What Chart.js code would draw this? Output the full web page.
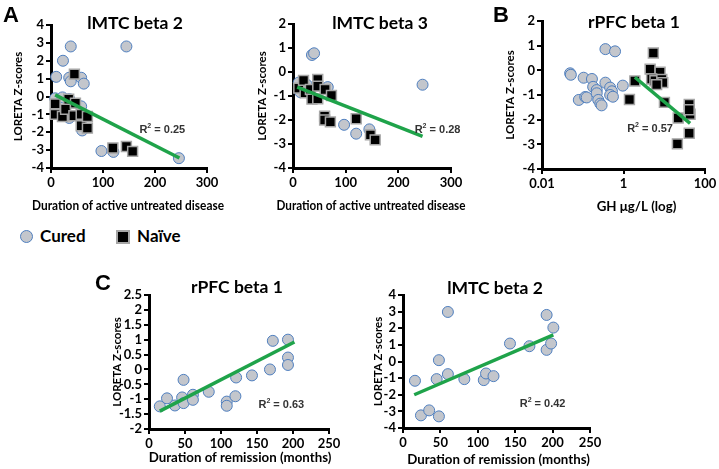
<!DOCTYPE html>
<html>
<head>
<meta charset="utf-8">
<script src="https://cdn.jsdelivr.net/npm/chart.js@4.4.1/dist/chart.umd.min.js"></script>
<style>
  body { margin: 0; background: #fff; width: 719px; height: 469px; position: relative; overflow: hidden; font-family: Lato, sans-serif; }
  canvas { position: absolute; }
  .lbl { position: absolute; font-weight: bold; white-space: nowrap; color: #000; }
  .ttl { font-size: 17.5px; line-height: 22px; width: 160px; text-align: center; }
  .let { font-family: "Liberation Sans", Arial, sans-serif; font-size: 22px; line-height: 22px; }
  .leg { font-size: 17px; line-height: 20px; }
</style>
</head>
<body>
<canvas id="cA1"></canvas>
<canvas id="cA2"></canvas>
<canvas id="cB"></canvas>
<canvas id="cC1"></canvas>
<canvas id="cC2"></canvas>

<div class="lbl let" style="left:3px;top:4px">A</div>
<div class="lbl let" style="left:493px;top:4px">B</div>
<div class="lbl let" style="left:95px;top:272px">C</div>

<div class="lbl ttl" style="left:55px;top:12px">lMTC beta 2</div>
<div class="lbl ttl" style="left:300px;top:12px">lMTC beta 3</div>
<div class="lbl ttl" style="left:554px;top:11px">rPFC beta 1</div>
<div class="lbl ttl" style="left:157px;top:276px">rPFC beta 1</div>
<div class="lbl ttl" style="left:415px;top:277px">lMTC beta 2</div>

<div style="position:absolute;left:20px;top:230px;width:11px;height:11px;border-radius:50%;background:#c3c6cc;border:1.5px solid #4f7fbf"></div>
<div class="lbl leg" style="left:40px;top:226px">Cured</div>
<div style="position:absolute;left:116px;top:230px;width:10px;height:10px;background:#000;border:2px solid #a6a6a6"></div>
<div class="lbl leg" style="left:137px;top:226px">Naïve</div>

<script>
// ---- data ----
// A: duration of active untreated disease vs LORETA z-score
const a1Cured = [[10,1.1],[23,2.0],[38,2.8],[145,2.8],[35,1.05],[38,0.85],[58,1.05],[63,0.72],[8,-0.1],[22,-0.05],[35,-0.15],[58,-0.55],[35,-1.2],[60,-1.9],[97,-3.05],[120,-3.1],[246,-3.45]];
const a1Naive = [[45,1.25],[8,-0.41],[8,-1.0],[22,-1.12],[28,-0.71],[34,-0.15],[47,-0.37],[44,-1.08],[58,-1.0],[58,-1.64],[70,-1.12],[70,-1.77],[119,-2.88],[145,-2.8],[157,-3.07]];
const a1Trend = [[8,0.09],[247,-3.44]];

const a2Cured = [[36,0.71],[40,0.78],[11,-0.44],[14,-0.84],[17,-0.63],[26,-0.53],[66,-0.63],[97,-2.2],[120,-2.57],[145,-2.39],[246,-0.53]];
const a2Naive = [[11,-0.67],[20,-0.35],[23,-0.87],[33,-0.73],[36,-1.13],[47,-1.12],[47,-0.31],[47,-0.59],[61,-0.73],[60,-1.84],[60,-2.0],[71,-2.08],[73,-0.98],[120,-1.95],[147,-2.62],[156,-2.83]];
const a2Trend = [[8,-0.63],[246,-2.68]];

// B: GH (log) vs LORETA z-score
const bCured = [[0.049,-0.12],[0.051,-0.18],[0.105,-0.3],[0.168,-0.35],[0.36,0.86],[0.62,0.77],[0.36,-0.5],[0.96,-0.62],[0.18,-0.67],[0.22,-0.8],[0.47,-0.7],[0.52,-0.85],[0.47,-1.0],[0.55,-1.07],[0.08,-1.2],[0.115,-1.08],[0.125,-1.1],[0.22,-0.93],[0.24,-1.2],[0.27,-1.35],[0.29,-1.42]];
const bNaive = [[5.4,0.7],[4.5,0.05],[7.9,-0.08],[4.9,-0.35],[5.9,-0.42],[8.7,-0.37],[9.2,-0.5],[6.5,-0.58],[1.9,-0.43],[1.4,-1.18],[10.1,-1.3],[22,-1.93],[43,-1.78],[41,-1.38],[41,-1.6],[41,-2.55],[21,-2.98]];
const bTrend = [[1.9,-0.28],[43,-2.15]];

// C: duration of remission (months) vs LORETA z-score, cured only
const c1Cured = [[15,-1.24],[25,-0.97],[36,-1.21],[46,-0.94],[48,-0.35],[48,-1.13],[61,-0.85],[61,-1.02],[83,-0.75],[108,-1.08],[108,-1.22],[120,-0.9],[121,-0.27],[143,-0.2],[168,0.0],[172,0.96],[193,1.0],[193,0.4],[193,0.15]];
const c1Trend = [[15,-1.4],[202,0.92]];

const c2Cured = [[16,-1.16],[24,-3.24],[35,-2.94],[45,-1.06],[48,0.08],[48,-3.3],[60,2.98],[60,-0.76],[82,-1.06],[108,-1.12],[111,-0.72],[121,-0.88],[143,1.08],[169,0.92],[192,2.8],[192,0.7],[198,1.08],[201,2.04]];
const c2Trend = [[15,-2.0],[201,1.6]];

const r2Values = { a1: "0.25", a2: "0.28", b: "0.57", c1: "0.63", c2: "0.42" };

// ---- helpers ----
const toXY = (arr) => arr.map(([x, y]) => ({ x, y }));
const tickFont = { family: "Lato", size: 13, weight: "bold" };
const yTitleFont = { family: "Lato", size: 11.5, weight: "bold" };
const fmt = (v) => String(Math.round(v * 10) / 10);

// R² note, anchored in data space
const r2Plugin = {
  id: "r2",
  afterDatasetsDraw(chart, args, opts) {
    if (!opts || opts.value === undefined) return;
    const { ctx, scales } = chart;
    const x = scales.x.getPixelForValue(opts.x);
    const y = scales.y.getPixelForValue(opts.y);
    ctx.save();
    ctx.fillStyle = "#333";
    ctx.textBaseline = "middle";
    ctx.font = 'bold 11px "Liberation Sans"';
    ctx.fillText("R", x, y);
    let w = ctx.measureText("R").width;
    ctx.font = 'bold 7px "Liberation Sans"';
    ctx.fillText("2", x + w, y - 4);
    w += ctx.measureText("2").width;
    ctx.font = 'bold 11px "Liberation Sans"';
    ctx.fillText(" = " + opts.value, x + w, y);
    ctx.restore();
  },
};

// x-axis title, may run wider than the plot area
const xTitlePlugin = {
  id: "xTitle",
  afterDraw(chart, args, opts) {
    if (!opts || !opts.text) return;
    const { ctx, chartArea } = chart;
    ctx.save();
    ctx.fillStyle = "#000";
    ctx.font = 'bold 13.3px Lato';
    ctx.textAlign = "center";
    ctx.textBaseline = "middle";
    const cx = (chartArea.left + chartArea.right) / 2 + (opts.dx || 0);
    if (opts.maxWidth) ctx.fillText(opts.text, cx, opts.y, opts.maxWidth);
    else ctx.fillText(opts.text, cx, opts.y);
    ctx.restore();
  },
};

function curedSet(points) {
  return {
    data: toXY(points),
    pointStyle: "circle",
    pointRadius: 5.5,
    backgroundColor: "#c3c6cc",
    borderColor: "#4f7fbf",
    borderWidth: 1,
  };
}
function naiveSet(points) {
  return {
    data: toXY(points),
    pointStyle: "rect",
    pointRadius: 7,
    backgroundColor: "#000",
    borderColor: "#a6a6a6",
    borderWidth: 1.5,
  };
}
function trendSet(points) {
  return {
    data: toXY(points),
    showLine: true,
    pointRadius: 0,
    borderColor: "#1fa34a",
    borderWidth: 3.5,
  };
}

function makePanel(id, box, xScale, yScale, datasets, r2) {
  const canvas = document.getElementById(id);
  canvas.width = box.w;
  canvas.height = box.h;
  canvas.style.left = box.left + "px";
  canvas.style.top = box.top + "px";

  const axisCommon = {
    grid: { drawOnChartArea: false, drawTicks: true, tickLength: 5, color: "#000", lineWidth: 2 },
    border: { display: true, color: "#000", width: 3 },
  };

  new Chart(canvas, {
    type: "scatter",
    data: { datasets },
    options: {
      responsive: false,
      animation: false,
      layout: { padding: { top: box.padTop, right: box.padRight, left: 0, bottom: 0 } },
      plugins: {
        legend: { display: false },
        tooltip: { enabled: false },
        r2,
        xTitle: { text: xScale.label, y: box.xTitleY, dx: box.xTitleDx || 0, maxWidth: box.xTitleW },
      },
      elements: { point: { hoverRadius: 0 } },
      datasets: { scatter: { clip: false } },
      scales: {
        x: Object.assign({}, axisCommon, xScale, {
          ticks: Object.assign({ color: "#000", font: tickFont, padding: 2, maxRotation: 0, autoSkip: false, callback: fmt }, xScale.ticks),
          title: { display: false },
          afterFit: (s) => { s.height = box.xH; },
        }),
        y: Object.assign({}, axisCommon, yScale, {
          ticks: Object.assign({ color: "#000", font: tickFont, padding: 2, autoSkip: false, callback: fmt }, yScale.ticks),
          title: { display: true, text: "LORETA Z-scores", color: "#000", font: yTitleFont, padding: { top: box.yTitlePad, bottom: 0 } },
          afterFit: (s) => { s.width = box.yW; },
        }),
      },
    },
    plugins: [r2Plugin, xTitlePlugin],
  });
}

const durLabel = "Duration of active untreated disease";
const remLabel = "Duration of remission (months)";

makePanel("cA1",
  { left: 0, top: 0, w: 228, h: 220, yW: 51, xH: 52, padTop: 25, padRight: 21, yTitlePad: 11, xTitleY: 206, xTitleDx: -1, xTitleW: 192 },
  { type: "linear", min: 0, max: 300, label: durLabel, ticks: { stepSize: 100 } },
  { min: -4, max: 4, ticks: { stepSize: 1 } },
  [trendSet(a1Trend), naiveSet(a1Naive), curedSet(a1Cured)],
  { x: 170, y: -1.87, value: r2Values.a1 });

makePanel("cA2",
  { left: 235, top: 0, w: 236, h: 220, yW: 58, xH: 52, padTop: 24, padRight: 20, yTitlePad: 20, xTitleY: 206, xTitleDx: -1, xTitleW: 189 },
  { type: "linear", min: 0, max: 300, label: durLabel, ticks: { stepSize: 100 } },
  { min: -4, max: 2, ticks: { stepSize: 1 } },
  [trendSet(a2Trend), naiveSet(a2Naive), curedSet(a2Cured)],
  { x: 231, y: -2.41, value: r2Values.a2 });

makePanel("cB",
  { left: 480, top: 0, w: 239, h: 220, yW: 62, xH: 51, padTop: 21, padRight: 14, yTitlePad: 23, xTitleY: 207, xTitleDx: 13 },
  {
    type: "logarithmic", min: 0.01, max: 100, label: "GH \u03bcg/L (log)",
    afterBuildTicks: (s) => { s.ticks = [0.01, 1, 100].map((v) => ({ value: v })); },
    ticks: { callback: (v) => String(v) },
  },
  { min: -4, max: 2, ticks: { stepSize: 1 } },
  [trendSet(bTrend), naiveSet(bNaive), curedSet(bCured)],
  { x: 1.23, y: -2.38, value: r2Values.b });

makePanel("cC1",
  { left: 95, top: 270, w: 250, h: 199, yW: 54, xH: 40, padTop: 25, padRight: 16, yTitlePad: 15, xTitleY: 188, xTitleDx: 1 },
  { type: "linear", min: 0, max: 250, label: remLabel, ticks: { stepSize: 50 } },
  { min: -2, max: 2.5, ticks: { stepSize: 0.5 } },
  [trendSet(c1Trend), curedSet(c1Cured)],
  { x: 152, y: -1.19, value: r2Values.c1 });

makePanel("cC2",
  { left: 350, top: 270, w: 255, h: 199, yW: 53, xH: 41, padTop: 25, padRight: 15, yTitlePad: 21, xTitleY: 190, xTitleDx: 2 },
  { type: "linear", min: 0, max: 250, label: remLabel, ticks: { stepSize: 50 } },
  { min: -4, max: 4, ticks: { stepSize: 1 } },
  [trendSet(c2Trend), curedSet(c2Cured)],
  { x: 156, y: -2.54, value: r2Values.c2 });
</script>
</body>
</html>
